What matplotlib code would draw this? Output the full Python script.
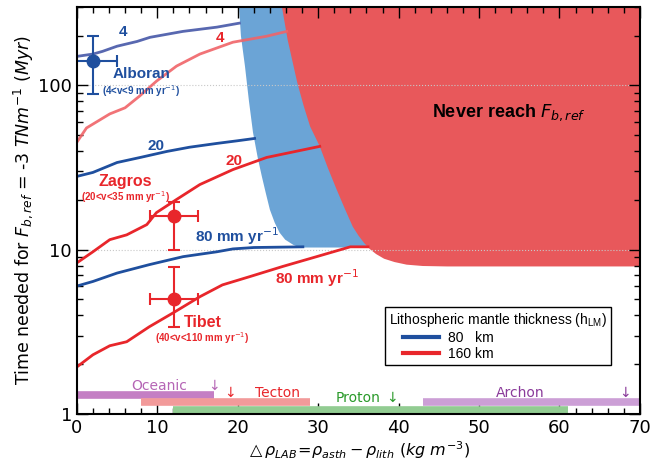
import matplotlib
matplotlib.use("Agg")
import matplotlib.pyplot as plt
from matplotlib.lines import Line2D
from matplotlib.legend_handler import HandlerLine2D
from matplotlib.ticker import NullFormatter, MultipleLocator, LogLocator

# ---- data ----
blue4_x = [0, 2, 3.2, 5, 7.5, 9.1, 13.2, 17.4, 20.2]
blue4_y = [150, 155, 161, 173, 185, 196, 213, 226, 239]
red4_x = [0, 1.2, 4.1, 6, 7.8, 9.9, 12.4, 15.3, 19.4, 23.6, 26.1]
red4_y = [45, 55, 67, 73, 86, 106, 131, 155, 183, 199, 213]
blue20_x = [0, 2, 5, 8, 11.2, 14, 17.4, 20, 22.1]
blue20_y = [27.9, 29.5, 33.9, 36.5, 39.6, 42, 44.3, 46, 47.5]
red20_x = [0, 2, 4.1, 6.2, 8.7, 9.9, 12.4, 15.3, 19.4, 23.6, 30.2]
red20_y = [8.3, 9.7, 11.5, 12.3, 14.2, 16.8, 20.2, 24.9, 30.7, 36.4, 42.5]
blue80_x = [0, 2, 5, 9, 13.2, 17.4, 19.4, 22, 28.1]
blue80_y = [6.0, 6.4, 7.2, 8.1, 9.06, 9.7, 10.1, 10.3, 10.4]
red80_x = [0, 2, 4.1, 6.2, 9, 12, 15.3, 18.1, 21.5, 25.6, 29.8, 34, 36.2]
red80_y = [1.93, 2.29, 2.6, 2.75, 3.39, 4.13, 5.17, 6.1, 6.85, 7.9, 9.06, 10.4, 10.4]

blue_edge_x = [20.0, 20.4, 20.9, 21.4, 21.9, 22.5, 23.0, 23.5, 24.0, 24.6, 25.2, 25.9, 26.9, 27.7, 70]
blue_edge_y = [400, 200, 131, 80, 51.7, 36, 27.9, 22, 17.5, 14.6, 12.7, 11.5, 10.7, 10.3, 10.3]
red_edge_x = [25.3, 25.5, 26.2, 27.4, 28.2, 29.0, 30.2, 31.2, 32.3, 33.3, 34.3, 35.0, 35.7,
              36.4, 37.2, 38.2, 39.5, 41.0, 43.0, 46.0, 70]
red_edge_y = [400, 300, 190, 104, 75, 56.2, 42.5, 31.5, 23.2, 17.8, 13.8, 12.2, 11.0,
              10.1, 9.4, 8.8, 8.4, 8.1, 7.95, 7.9, 7.9]

sites = ["Alboran", "Zagros", "Tibet"]
site_x = [2.0, 12.1, 12.1]
site_y = [140, 16, 5]
site_xerr = [3, 3, 3]
site_yerr_lo = [52, 6, 1.6]
site_yerr_hi = [59, 3.6, 2.8]

lith_names = ["Oceanic", "Tecton", "Proton", "Archon"]
lith_start = [0, 8, 12, 43]
lith_end = [17, 29, 61, 70]
lith_level = [1.31, 1.18, 1.06, 1.18]
lith_arrow = [17.0, 19.1, 39.2, 68.2]

BLUE = "#1f4f9e"
RED = "#e8262b"
BLUE_FILL = "#6ba4d6"
RED_FILL = "#e8585b"

fig = plt.figure(figsize=(6.51, 4.63), dpi=100)
ax = fig.add_axes([0.118, 0.106, 0.865, 0.879])
ax.set_yscale("log")
ax.set_xlim(0, 70)
ax.set_ylim(1, 300)

# regions
ax.fill(blue_edge_x + [70], blue_edge_y + [400], color=BLUE_FILL, lw=0, zorder=1)
ax.fill(red_edge_x + [70], red_edge_y + [400], color=RED_FILL, lw=0, zorder=1.2)

for yv in [10, 100]:
    ax.axhline(yv, color="#c8c8c8", ls=":", lw=0.8, zorder=1.5)

# curves
ax.plot(blue4_x, blue4_y, color="#4657a8", lw=2, alpha=0.9, zorder=3)
ax.plot(red4_x, red4_y, color="#f06468", lw=2, alpha=0.9, zorder=3)
ax.plot(blue20_x, blue20_y, color=BLUE, lw=2, zorder=3)
ax.plot(red20_x, red20_y, color=RED, lw=2, zorder=3)
ax.plot(blue80_x, blue80_y, color=BLUE, lw=2, zorder=3)
ax.plot(red80_x, red80_y, color=RED, lw=2, zorder=3)

# data points
site_colors = [BLUE, RED, RED]
for i in range(len(sites)):
    ax.errorbar(site_x[i], site_y[i], xerr=site_xerr[i],
                yerr=[[site_yerr_lo[i]], [site_yerr_hi[i]]],
                fmt="o", color=site_colors[i], ms=9, lw=1.5, capsize=4,
                capthick=1.5, zorder=4)

lab = dict(family="Liberation Sans", fontweight="bold", zorder=5)
ax.text(5.7, 211, "4", color=BLUE, fontsize=11, ha="center", va="center", **lab)
ax.text(17.8, 195, "4", color=RED, fontsize=11, ha="center", va="center", **lab)
ax.text(9.9, 42.5, "20", color=BLUE, fontsize=11, ha="center", va="center", **lab)
ax.text(19.6, 34.4, "20", color=RED, fontsize=11, ha="center", va="center", **lab)
ax.text(8.0, 117, "Alboran", color=BLUE, fontsize=11, ha="center", va="center", **lab)
ax.text(8.0, 92, r"(4<v<9 mm yr$^{-1}$)", color=BLUE, fontsize=7, ha="center", va="center", **lab)
ax.text(6.0, 26, "Zagros", color=RED, fontsize=11.5, ha="center", va="center", **lab)
ax.text(6.0, 21, r"(20<v<35 mm yr$^{-1}$)", color=RED, fontsize=7, ha="center", va="center", **lab)
ax.text(19.9, 12.0, r"80 mm yr$^{-1}$", color=BLUE, fontsize=11, ha="center", va="center", **lab)
ax.text(29.8, 6.75, r"80 mm yr$^{-1}$", color=RED, fontsize=11, ha="center", va="center", **lab)
ax.text(15.7, 3.59, "Tibet", color=RED, fontsize=11.5, ha="center", va="center", **lab)
ax.text(15.6, 2.9, r"(40<v<110 mm yr$^{-1}$)", color=RED, fontsize=7, ha="center", va="center", **lab)
ax.text(53.7, 68, r"Never reach $F_{b,ref}$", color="black", fontsize=13, ha="center", va="center", **lab)

# lithosphere bars
bar_colors = ["#c47fc4", "#f29a9a", "#92cc92", "#cc9fd6"]
text_colors = ["#b565b5", "#e8262b", "#2a9a2a", "#8a3a9a"]
label_x = [10.3, 25.0, 35.0, 55.1]
label_y = [1.48, 1.34, 1.25, 1.34]
for i in [0, 1, 3, 2]:
    ax.hlines(lith_level[i], lith_start[i], lith_end[i], colors=bar_colors[i],
              lw=5.5, zorder=2 if i != 2 else 2.1, clip_on=False)
for i in range(4):
    ax.text(label_x[i], label_y[i], lith_names[i], color=text_colors[i],
            fontsize=10, ha="center", va="center", zorder=5)
    ax.text(lith_arrow[i], label_y[i], "\u2193", color=text_colors[i],
            fontsize=10, ha="center", va="center", zorder=5)

# axes styling
ax.set_xticks(range(0, 71, 10))
ax.xaxis.set_minor_locator(MultipleLocator(2))
ax.set_yticks([1, 10, 100])
ax.set_yticklabels(["1", "10", "100"])
ax.yaxis.set_minor_locator(LogLocator(base=10, subs=range(2, 10)))
ax.yaxis.set_minor_formatter(NullFormatter())
ax.tick_params(which="both", direction="in", top=True, right=True, labelsize=13)
ax.tick_params(which="major", length=8, width=1)
ax.tick_params(which="minor", length=4, width=1)
for s in ax.spines.values():
    s.set_linewidth(1.5)
    s.set_zorder(6)

ax.set_ylabel(r"Time needed for $F_{b,ref}$ = -3 $TNm^{-1}$ $(Myr)$", fontsize=12.5, labelpad=2)
ax.set_xlabel(r"$\triangle\rho_{LAB}\!=\!\rho_{asth}-\rho_{lith}\ (kg\ m^{-3})$", fontsize=11.5, labelpad=2)

handles = [Line2D([], [], color=BLUE, lw=3), Line2D([], [], color=RED, lw=3)]
leg = ax.legend(handles, ["80   km", "160 km"],
                title=r"Lithospheric mantle thickness (h$_{\mathregular{LM}}$)",
                loc="upper left", bbox_to_anchor=(0.535, 0.28),
                prop={"family": "Liberation Sans", "size": 10},
                title_fontproperties={"family": "Liberation Sans", "size": 10},
                fancybox=False, edgecolor="black", framealpha=1,
                borderpad=0.3, labelspacing=0.15, handlelength=3.6,
                handletextpad=0.65, alignment="left",
                handler_map={Line2D: HandlerLine2D(xpad=1.0)})
leg.get_frame().set_linewidth(1.0)
leg.set_zorder(7)

fig.savefig("out.png", dpi=100)
